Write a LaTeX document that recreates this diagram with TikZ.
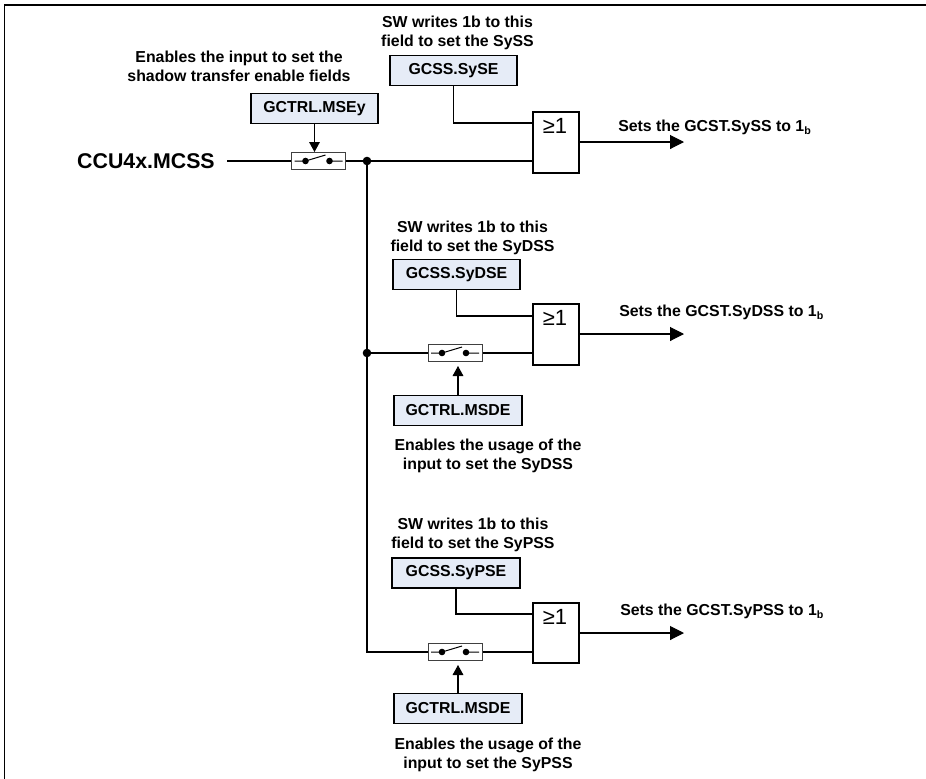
\documentclass[tikz,border=0pt]{standalone}
\usepackage{fontspec}
\setmainfont{Liberation Sans}
\usetikzlibrary{arrows.meta}
\definecolor{boxfill}{HTML}{E6ECF7}
\definecolor{swline}{HTML}{404040}
\newcommand{\subb}{\raisebox{-0.18em}{\fontsize{8pt}{8pt}\selectfont b}}
\tikzset{
  x=0.75pt,y=-0.75pt,
  wire/.style={draw=black,line width=0.8pt},
  regbox/.style={draw=black,line width=1.4pt,fill=boxfill,minimum width=95.5pt,minimum height=22.5pt,inner sep=0pt,font=\fontsize{11.9pt}{14pt}\bfseries},
  gatebox/.style={draw=black,line width=1.6pt,fill=white,minimum width=34.5pt,minimum height=45.5pt,inner sep=0pt},
  gatetext/.style={inner sep=0pt,font=\fontsize{16.5pt}{18pt}\selectfont},
  swbox/.style={draw=swline,line width=0.75pt,fill=white,minimum width=40.5pt,minimum height=13pt,inner sep=0pt},
  note/.style={inner sep=0pt,align=center,font=\fontsize{11.9pt}{14.25pt}\bfseries},
  outnote/.style={inner sep=0pt,anchor=west,font=\fontsize{11.9pt}{14pt}\bfseries},
  ctrlarrow/.style={wire,-{Triangle[length=7.5pt,width=8pt]}},
  outarrow/.style={wire,-{Triangle[length=10.5pt,width=10.5pt]}},
  swcontacts/.pic={
    \draw[line width=0.75pt] (-24,0) -- (-13,0) (-13,0) -- (7,-6) (11,0) -- (24,0);
    \fill (-13,0) circle (3.3) (11,0) circle (3.3);
  }
}
\begin{document}
\begin{tikzpicture}
\useasboundingbox (0,0) rectangle (926,779);
% frame
\draw[line width=1.1pt] (4.6,779) -- (4.6,5) -- (926,5);

% gates
\node[gatebox] (g1) at (556,142.5) {};
\node[gatebox] (g2) at (556,334.5) {};
\node[gatebox] (g3) at (556,633) {};
\node[gatetext,anchor=north west] (g1t) at (542.5,118) {≥1};
\node[gatetext,anchor=north west] (g2t) at (542.5,310) {≥1};
\node[gatetext,anchor=north west] (g3t) at (542.5,609) {≥1};

% switches
\node[swbox] (s1) at (318.5,161) {};
\node[swbox] (s2) at (455,353) {};
\node[swbox] (s3) at (455,652) {};
\pic at (318.5,161) {swcontacts};
\pic at (455,353) {swcontacts};
\pic at (455,652) {swcontacts};

% registers
\node[regbox] (rse) at (453.5,70.5) {GCSS.SySE};
\node[regbox] (rmse) at (314.5,108.5) {GCTRL.MSEy};
\node[regbox] (rdse) at (456.5,274.5) {GCSS.SyDSE};
\node[regbox] (rmd) at (458,410.5) {GCTRL.MSDE};
\node[regbox] (rpse) at (456,573) {GCSS.SyPSE};
\node[regbox] (rmp) at (458,708.5) {GCTRL.MSDE};

% input label
\node[inner sep=0pt,anchor=east,font=\fontsize{16pt}{18pt}\bfseries] (ccu) at (215,161) {CCU4x.MCSS};
\coordinate (in) at (227,161);
\coordinate (j1) at (367,161);
\coordinate (j2) at (367,353);
\coordinate (j3) at (367,652);
\coordinate (a1) at (533,123);
\coordinate (b1) at (533,161);
\coordinate (a2) at (533,316);
\coordinate (b2) at (533,353);
\coordinate (a3) at (533,614);
\coordinate (b3) at (533,652);
\coordinate (o1) at (684,142);
\coordinate (o2) at (684,334);
\coordinate (o3) at (684,633);
\coordinate (t1) at (314.5,152);
\coordinate (t2) at (458,366);
\coordinate (t3) at (458,665);

% wires
\draw[wire] (in) -- (s1.west);
\draw[wire] (s1.east) -- (j1) -- (b1);
\draw[wire] (j1) -- (j2) -- (j3) -- (s3.west);
\draw[wire] (j2) -- (s2.west);
\draw[wire] (s2.east) -- (b2);
\draw[wire] (s3.east) -- (b3);
\draw[wire] (rse.south) |- (a1);
\draw[wire] (rdse.south) |- (a2);
\draw[wire] (rpse.south) |- (a3);
\fill (j1) circle (4.3);
\fill (j2) circle (4.3);
\draw[ctrlarrow] (rmse.south) -- (t1);
\draw[ctrlarrow] (rmd.north) -- (t2);
\draw[ctrlarrow] (rmp.north) -- (t3);
\draw[outarrow] (g1.east |- o1) -- (o1);
\draw[outarrow] (g2.east |- o2) -- (o2);
\draw[outarrow] (g3.east |- o3) -- (o3);

% notes
\node[note] (n1) at (457.5,32.5) {SW writes 1b to this\\field to set the SySS};
\node[note] (n2) at (239,66.5) {Enables the input to set the\\shadow transfer enable fields};
\node[note] (n3) at (472.5,237.5) {SW writes 1b to this\\field to set the SyDSS};
\node[note] (n4) at (488,455.5) {Enables the usage of the\\input to set the SyDSS};
\node[note] (n5) at (473,535) {SW writes 1b to this\\field to set the SyPSS};
\node[note] (n6) at (488,754.5) {Enables the usage of the\\input to set the SyPSS};
\node[outnote] (r1) at (618,127.5) {Sets the GCST.SySS to 1\subb};
\node[outnote] (r2) at (619,312.5) {Sets the GCST.SyDSS to 1\subb};
\node[outnote] (r3) at (620,611.5) {Sets the GCST.SyPSS to 1\subb};
\end{tikzpicture}
\end{document}
